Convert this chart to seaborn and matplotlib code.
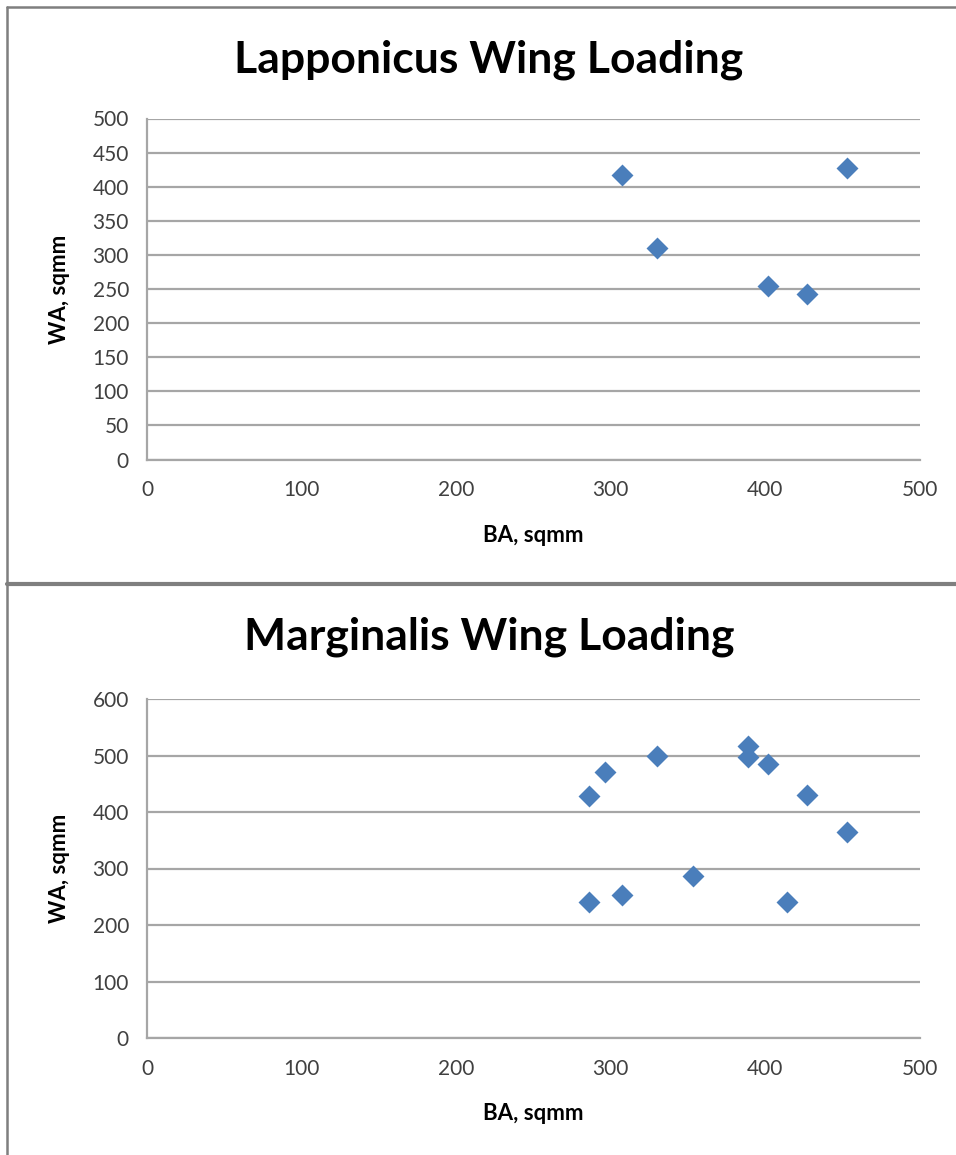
import matplotlib
matplotlib.use("Agg")
import matplotlib.pyplot as plt
import seaborn as sns
import pandas as pd
from matplotlib.lines import Line2D

# Lapponicus
lap_ba = [307, 330, 402, 427, 453]
lap_wa = [417, 310, 255, 243, 428]

# Marginalis
mar_ba = [286, 286, 296, 307, 330, 353, 389, 389, 402, 414, 427, 453]
mar_wa = [428, 241, 471, 253, 499, 287, 517, 497, 485, 241, 430, 364]

titles = ["Lapponicus Wing Loading", "Marginalis Wing Loading"]
x_ticks = [0, 100, 200, 300, 400, 500]
y_ticks_top = [0, 50, 100, 150, 200, 250, 300, 350, 400, 450, 500]
y_ticks_bot = [0, 100, 200, 300, 400, 500, 600]

sns.set_style("white")
plt.rcParams["font.family"] = ["Lato", "DejaVu Sans"]

fig = plt.figure(figsize=(9.56, 11.55), dpi=100)
W, H = 956, 1155

def px_axes(left, top, right, bottom):
    return fig.add_axes([left / W, 1 - bottom / H, (right - left) / W, (bottom - top) / H])

grid_c = "#a6a6a6"
point_c = "#4a7ebb"

ax1 = px_axes(147, 118.5, 920, 459.5)
ax2 = px_axes(147, 699, 920, 1038)

df1 = pd.DataFrame({"BA": lap_ba, "WA": lap_wa})
df2 = pd.DataFrame({"BA": mar_ba, "WA": mar_wa})

for ax, df, yt, title, ty, xly in [
    (ax1, df1, y_ticks_top, titles[0], 60, 535),
    (ax2, df2, y_ticks_bot, titles[1], 637, 1113),
]:
    sns.scatterplot(data=df, x="BA", y="WA", ax=ax, marker="D", s=125,
                    color=point_c, linewidth=0, zorder=3, clip_on=False)
    ax.set_xlim(0, 500)
    ax.set_ylim(yt[0], yt[-1])
    ax.set_xticks(x_ticks)
    ax.set_yticks(yt)
    ax.yaxis.grid(True, color=grid_c, linewidth=1.6)
    ax.xaxis.grid(False)
    for s in ["top", "right"]:
        ax.spines[s].set_visible(False)
    for s in ["left", "bottom"]:
        ax.spines[s].set_color(grid_c)
        ax.spines[s].set_linewidth(1.6)
    ax.tick_params(axis="both", direction="out", length=7, width=1.6,
                   color=grid_c, labelsize=15, labelcolor="#404040", pad=6)
    ax.tick_params(axis="x", pad=8)
    ax.set_xlabel("")
    ax.set_ylabel("")
    fig.text(489 / W, 1 - ty / H, title, ha="center", va="center",
             fontsize=32, fontweight="bold", color="black")
    fig.text(533 / W, 1 - xly / H, "BA, sqmm", ha="center", va="center",
             fontsize=16, fontweight="bold", color="black")

fig.text(60 / W, 1 - 289 / H, "WA, sqmm", ha="center", va="center",
         rotation=90, fontsize=16, fontweight="bold", color="black")
fig.text(60 / W, 1 - 868 / H, "WA, sqmm", ha="center", va="center",
         rotation=90, fontsize=16, fontweight="bold", color="black")

# chart frames
border_c = "#7f7f7f"
fig.add_artist(Line2D([7 / W, 7 / W], [0, 1 - 7 / H], color=border_c, linewidth=1.8))
fig.add_artist(Line2D([7 / W, 1], [1 - 7 / H, 1 - 7 / H], color=border_c, linewidth=1.8))
fig.add_artist(Line2D([7 / W, 1], [1 - 583.5 / H, 1 - 583.5 / H], color=border_c, linewidth=3))

fig.savefig("out.png", dpi=100, facecolor="white")
